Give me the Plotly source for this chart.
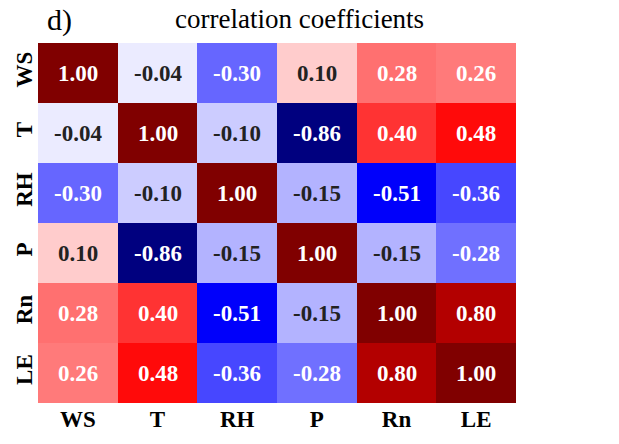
import plotly.graph_objects as go

labels = ["WS", "T", "RH", "P", "Rn", "LE"]
corr = [
    [1.00, -0.04, -0.30, 0.10, 0.28, 0.26],
    [-0.04, 1.00, -0.10, -0.86, 0.40, 0.48],
    [-0.30, -0.10, 1.00, -0.15, -0.51, -0.36],
    [0.10, -0.86, -0.15, 1.00, -0.15, -0.28],
    [0.28, 0.40, -0.51, -0.15, 1.00, 0.80],
    [0.26, 0.48, -0.36, -0.28, 0.80, 1.00],
]

seismic = [
    [0.0, "rgb(0,0,77)"],
    [0.25, "rgb(0,0,255)"],
    [0.5, "rgb(255,255,255)"],
    [0.75, "rgb(255,0,0)"],
    [1.0, "rgb(128,0,0)"],
]

FONT = "Liberation Serif, Times New Roman, serif"

fig = go.Figure(go.Heatmap(
    z=corr, x=labels, y=labels, colorscale=seismic, zmin=-1, zmax=1,
    showscale=False, hoverinfo="skip",
))

annotations = []
for i, row in enumerate(corr):
    for j, v in enumerate(row):
        annotations.append(dict(
            x=labels[j], y=labels[i], text=f"<b>{v:.2f}</b>", showarrow=False,
            font=dict(family=FONT, size=23, color="white" if abs(v) > 0.2 else "#222222"),
        ))
annotations.append(dict(
    x=299, y=18, text="correlation coefficients",
    showarrow=False, font=dict(family=FONT, size=27, color="black"),
))
annotations.append(dict(
    text="d)", x=58, y=19, showarrow=False,
    font=dict(family=FONT, size=30, color="black"),
))
# convert pixel positions for title annotations to paper coords
L, R, T, B = 36, 103, 43, 31
W, H = 619, 444
pw, ph = W - L - R, H - T - B
for a in annotations[-2:]:
    px, py = a["x"], a["y"]
    a["x"] = (px - L) / pw
    a["y"] = 1 + (T - py) / ph
    a["xref"] = "paper"
    a["yref"] = "paper"
    a["xanchor"] = "center"
    a["yanchor"] = "middle"

fig.update_layout(
    width=W, height=H,
    margin=dict(l=L, r=R, t=T, b=B),
    paper_bgcolor="white", plot_bgcolor="white",
    annotations=annotations,
    xaxis=dict(tickfont=dict(family=FONT, size=23, color="black"), showgrid=False,
               zeroline=False, ticks="", ticklen=0),
    yaxis=dict(tickfont=dict(family=FONT, size=23, color="black"), showgrid=False,
               zeroline=False, autorange="reversed", tickangle=-90, ticks="", ticklen=0),
)
fig.update_xaxes(tickprefix="<b>", ticksuffix="</b>")
fig.update_yaxes(tickprefix="<b>", ticksuffix="</b>")

fig.write_html("out.html")
